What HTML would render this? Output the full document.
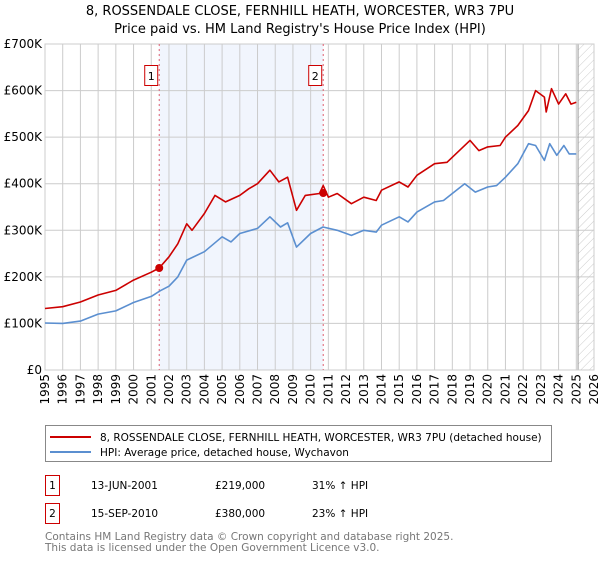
<!DOCTYPE html>
<html><head><meta charset="utf-8"><style>
body{margin:0;background:#fff;font-family:"Liberation Sans","DejaVu Sans",sans-serif}
svg text{font-family:"DejaVu Sans","Liberation Sans",sans-serif}
</style></head><body>
<svg id="c" width="600" height="560" xmlns="http://www.w3.org/2000/svg">
<defs><pattern id="hatch" width="6" height="6" patternUnits="userSpaceOnUse" patternTransform="rotate(45)"><line x1="0" y1="0" x2="0" y2="6" stroke="#ccc" stroke-width="1"/></pattern></defs>
<text x="300" y="15" text-anchor="middle" font-size="13">8, ROSSENDALE CLOSE, FERNHILL HEATH, WORCESTER, WR3 7PU</text>
<text x="300" y="33" text-anchor="middle" font-size="13">Price paid vs. HM Land Registry's House Price Index (HPI)</text>
<g id="plot"></g>
<g>
<rect x="45.5" y="425.5" width="506" height="36" fill="#fff" stroke="#888"/>
<line x1="50" y1="437" x2="91" y2="437" stroke="#cc0000" stroke-width="2"/>
<text x="100" y="441" font-size="10.5">8, ROSSENDALE CLOSE, FERNHILL HEATH, WORCESTER, WR3 7PU (detached house)</text>
<line x1="50" y1="452" x2="91" y2="452" stroke="#5b8fd0" stroke-width="2"/>
<text x="100" y="456" font-size="10.5">HPI: Average price, detached house, Wychavon</text>
</g>
<g font-size="10.5">
<rect x="45.5" y="475.5" width="14" height="20" fill="#fff" stroke="#cc0000"/><text x="52.5" y="489" text-anchor="middle">1</text>
<text x="91" y="489">13-JUN-2001</text><text x="215" y="489">£219,000</text><text x="312" y="489">31% ↑ HPI</text>
<rect x="45.5" y="503.5" width="14" height="20" fill="#fff" stroke="#cc0000"/><text x="52.5" y="517" text-anchor="middle">2</text>
<text x="91" y="517">15-SEP-2010</text><text x="215" y="517">£380,000</text><text x="312" y="517">23% ↑ HPI</text>
</g>
<text x="45" y="540" font-size="10.5" fill="#777">Contains HM Land Registry data © Crown copyright and database right 2025.</text>
<text x="45" y="551" font-size="10.5" fill="#777">This data is licensed under the Open Government Licence v3.0.</text>
</svg>
<script>
const hpiYears=[1995,1996,1997,1998,1999,2000,2001,2001.5,2002,2002.5,2003,2004,2005,2005.5,2006,2007,2007.7,2008.3,2008.7,2009.2,2010,2010.7,2011.5,2012.3,2013,2013.7,2014,2015,2015.5,2016,2017,2017.5,2018,2018.7,2019.3,2020,2020.5,2021,2021.7,2022.3,2022.7,2023.2,2023.5,2023.9,2024.3,2024.6,2025];
const hpiValues=[101,100,105,120,127,145,158,170,180,200,236,254,286,275,293,304,329,307,316,264,293,307,300,289,300,296,311,329,318,339,361,364,379,400,382,393,396,414,443,486,482,450,486,461,482,464,464];
const ppYears=[1995,1996,1997,1998,1999,2000,2001,2001.45,2002,2002.5,2003,2003.3,2004,2004.6,2005.2,2006,2006.5,2007,2007.7,2008.2,2008.7,2009.2,2009.7,2010.5,2010.71,2011,2011.5,2012.3,2013,2013.7,2014,2015,2015.5,2016,2017,2017.7,2018.5,2019,2019.5,2020,2020.7,2021,2021.7,2022.3,2022.7,2023.2,2023.3,2023.6,2024,2024.4,2024.7,2025];
const ppValues=[132,136,146,161,171,193,210,219,243,271,314,300,336,375,361,375,389,400,429,404,414,343,375,379,396,371,379,357,371,364,386,404,393,418,443,446,475,493,471,479,482,500,525,557,600,586,554,604,571,593,571,575];
const saleYears=[2001.45,2010.71];
const saleValues=[219,380];
const yTicks=[0,100,200,300,400,500,600,700];
const yTickLabels=["£0","£100K","£200K","£300K","£400K","£500K","£600K","£700K"];
const xTicks=[1995,1996,1997,1998,1999,2000,2001,2002,2003,2004,2005,2006,2007,2008,2009,2010,2011,2012,2013,2014,2015,2016,2017,2018,2019,2020,2021,2022,2023,2024,2025,2026];

const L=45,R=594,T=44,B=370,X0=1995,X1=2026,Ymax=700;
const xs=v=>L+(v-X0)/(X1-X0)*(R-L);
const ys=v=>B-v/Ymax*(B-T);
const NS="http://www.w3.org/2000/svg";
const g=document.getElementById('plot');
function mk(t,a){const e=document.createElementNS(NS,t);for(const k in a)e.setAttribute(k,a[k]);g.appendChild(e);return e;}
let e;
e=mk('rect',{x:xs(saleYears[0]),y:T,width:xs(saleYears[1])-xs(saleYears[0]),height:B-T,fill:'#eef3fc',opacity:0.8});


e=mk('rect',{x:xs(2025.1),y:T,width:R-xs(2025.1),height:B-T,fill:'url(#hatch)'});


yTicks.forEach((v,i)=>{
 e=mk('line',{x1:L,x2:R,y1:ys(v),y2:ys(v),stroke:'#ccc'});
 
 
 e=mk('text',{x:L-3,y:ys(v)+4,'text-anchor':'end','font-size':12});
 e.textContent=yTickLabels[i];
 
 
});
xTicks.forEach(v=>{
 e=mk('line',{x1:xs(v),x2:xs(v),y1:T,y2:B,stroke:'#ccc'});
 
 
 e=mk('text',{x:0,y:0,'text-anchor':'end','font-size':12,transform:`translate(${xs(v)+4},${B+4}) rotate(-90)`});
 e.textContent=v;
 
 
});
e=mk('line',{x1:xs(2025.1),x2:xs(2025.1),y1:T,y2:B,stroke:'#999'});


e=mk('rect',{x:L,y:T,width:R-L,height:B-T,fill:'none',stroke:'#ccc'});


saleYears.forEach((v,i)=>{
 e=mk('line',{x1:xs(v),x2:xs(v),y1:T,y2:B,stroke:'#e06070','stroke-dasharray':'2,3'});
 
 
 e=mk('rect',{x:xs(v)-14.5,y:65.5,width:13,height:20,fill:'#fff',stroke:'#cc0000'});
 
 
 e=mk('text',{x:xs(v)-8,y:80,'text-anchor':'middle','font-size':11});
 e.textContent=String(i+1);
 
 
});
function line(xv,yv,col,name){
 const d=xv.map((x,i)=>(i?'L':'M')+xs(x).toFixed(1)+','+ys(yv[i]).toFixed(1)).join('');
 const p=mk('path',{d:d,fill:'none',stroke:col,'stroke-width':1.6,'stroke-linejoin':'round'});
 
 
}
line(hpiYears,hpiValues,'#5b8fd0','hpi-line');
line(ppYears,ppValues,'#cc0000','price-paid-line');
saleYears.forEach((v,i)=>{
 e=mk('circle',{cx:xs(v),cy:ys(saleValues[i]),r:4,fill:'#cc0000'});
 
 
});
</script>
</body></html>
